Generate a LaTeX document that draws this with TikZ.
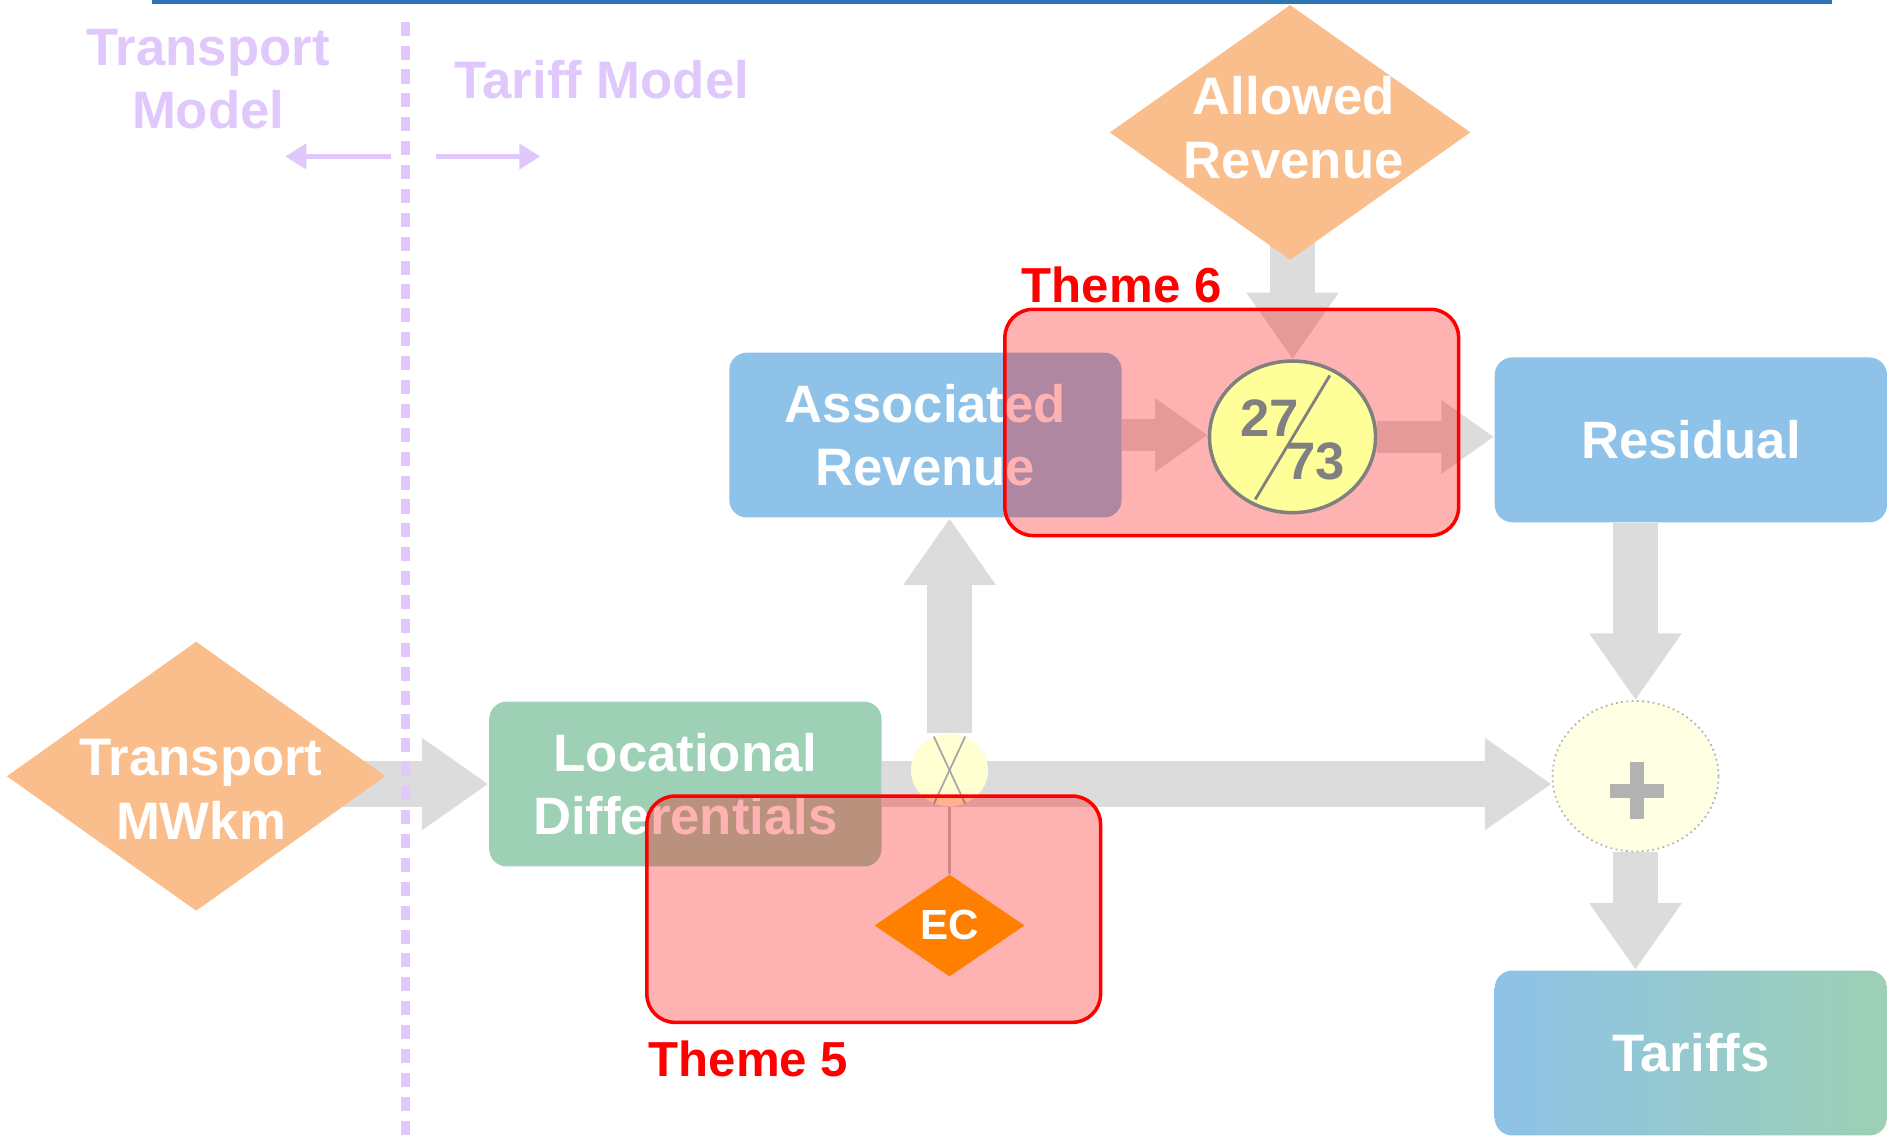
\documentclass[tikz,border=0pt]{standalone}
\usepackage{fontspec}
\setmainfont{Liberation Sans}
\usetikzlibrary{shapes.geometric,arrows.meta,backgrounds}

\newcommand{\upx}{0.012034cm}

\definecolor{headblue}{HTML}{2E75B6}
\definecolor{lavender}{HTML}{E0C8FC}
\definecolor{faintorange}{HTML}{F9BE8C}
\definecolor{blockblue}{HTML}{8EC2E8}
\definecolor{blockgreen}{HTML}{9DD0B4}
\definecolor{arrowgrey}{HTML}{DCDCDC}
\definecolor{ratioyellow}{HTML}{FFFF99}
\definecolor{paleyellow}{HTML}{FFFFE4}
\definecolor{ecorange}{HTML}{FF7F00}

\tikzset{
  headerline/.style={draw=headblue, line width=1pt},
  splitline/.style={draw=lavender, line width=2.4pt, dash pattern=on 4pt off 2.8pt},
  splitarrow/.style={draw=lavender, line width=1.6pt, -{Triangle[width=7pt,length=6pt]}},
  modeltext/.style={text=lavender, font=\fontsize{15}{18}\selectfont\bfseries, align=center, inner sep=0pt},
  inputdia/.style={diamond, fill=faintorange, inner sep=0pt},
  diatext/.style={text=white, font=\fontsize{15}{18}\selectfont\bfseries, align=center, inner sep=0pt},
  block/.style={rectangle, rounded corners=5pt, fill=blockblue, minimum width=326*\upx, minimum height=137*\upx,
    text=white, font=\fontsize{15}{18}\selectfont\bfseries, align=center, inner sep=0pt},
  theme/.style={rectangle, rounded corners=8pt, draw=red, line width=1pt, fill=red, fill opacity=0.3,
    minimum width=377*\upx, minimum height=188*\upx},
  themelabel/.style={text=red, font=\fontsize{14}{17}\selectfont\bfseries, inner sep=0pt},
  rationode/.style={ellipse, fill=ratioyellow, draw=gray, line width=1pt, minimum width=138*\upx, minimum height=126*\upx, inner sep=0pt},
  ratiotext/.style={text=gray, font=\fontsize{15}{18}\selectfont\bfseries, inner sep=0pt},
  ratioline/.style={draw=gray, line width=0.8pt},
  xnode/.style={ellipse, fill=ratioyellow!45, minimum width=64*\upx, minimum height=60*\upx, inner sep=0pt},
  xcross/.style={draw=gray!70, line width=0.5pt},
  plusnode/.style={ellipse, draw=gray!60, densely dotted, line width=0.5pt, fill=paleyellow,
    minimum width=138*\upx, minimum height=125*\upx, inner sep=0pt},
  plusbar/.style={draw=gray!60, line width=4pt},
  ecdia/.style={diamond, fill=ecorange, minimum width=125*\upx, minimum height=85*\upx, inner sep=0pt,
    text=white, font=\fontsize{12}{14}\selectfont\bfseries},
  bigarrow/.style={draw=arrowgrey, line width=13pt, -{Triangle[width=25pt,length=19pt]}},
  midarrow/.style={draw=arrowgrey, line width=9pt, -{Triangle[width=20pt,length=15pt]}},
  thinlink/.style={draw=gray!50, line width=0.7pt}
}

\begin{document}
\begin{tikzpicture}[x=\upx, y=-\upx]
\useasboundingbox (0,0) rectangle (1568,948);

% header rule
\coordinate (hleft) at (126,1.5);
\coordinate (hright) at (1522,1.5);
\draw[headerline] (hleft) -- (hright);

% transport / tariff split
\coordinate (splittop) at (337,18);
\coordinate (splitbot) at (337,948);
\draw[splitline] (splittop) -- (splitbot);
\node[modeltext] (tmodel) at (173,66) {Transport\\Model};
\node[modeltext] (fmodel) at (500,66) {Tariff Model};
\coordinate (lfrom) at (325,130);
\coordinate (lto) at (237,130);
\coordinate (rfrom) at (362,130);
\coordinate (rto) at (449,130);
\draw[splitarrow] (lfrom) -- (lto);
\draw[splitarrow] (rfrom) -- (rto);

% inputs
\node[inputdia, minimum width=300*\upx, minimum height=212*\upx] (ar) at (1072,110) {};
\node[diatext] (artext) at (1075,106) {Allowed\\Revenue};
\node[inputdia, minimum width=315*\upx, minimum height=224*\upx] (tmw) at (163,645) {};
\node[diatext] (tmwtext) at (167,656) {Transport\\MWkm};

% blocks
\node[block] (assoc) at (769,361.5) {Associated\\Revenue};
\node[block] (res) at (1405,365.5) {Residual};
\node[block, fill=blockgreen] (locd) at (569.5,651.5) {Locational\\Differentials};
\node[block, fill=none, left color=blockblue, right color=blockgreen] (tar) at (1405,875) {Tariffs};

% operators
\node[xnode] (xc) at (789,640) {};
\draw[xcross] (xc.115) -- (xc.295);
\draw[xcross] (xc.65) -- (xc.245);
\node[plusnode] (plus) at (1359,645) {};
\draw[plusbar] ([shift={(-21.5,12)}]plus.center) -- ([shift={(23.5,12)}]plus.center);
\draw[plusbar] ([shift={(1,-11.5)}]plus.center) -- ([shift={(1,35.5)}]plus.center);

% themes
\node[theme] (t6) at (1023.5,351) {};
\node[themelabel] (t6label) at (932,237) {Theme 6};
\node[theme] (t5) at (726,755.5) {};
\node[themelabel] (t5label) at (622,880) {Theme 5};

% split ratio and EC
\node[rationode] (ratio) at (1074,363) {};
\draw[ratioline] ([shift={(31,-51)}]ratio.center) -- ([shift={(-31,52)}]ratio.center);
\node[ratiotext] (r27) at ([shift={(-19,-16)}]ratio.center) {27};
\node[ratiotext] (r73) at ([shift={(19,20)}]ratio.center) {73};
\node[ecdia] (ec) at (789,769) {EC};

% flows
\begin{pgfonlayer}{background}
\draw[bigarrow] (tmw.center |- locd.west) -- (locd.west);
\draw[bigarrow] (locd.east) -- (locd.east -| plus.west);
\draw[bigarrow] (xc.north) -- (xc.north |- assoc.south);
\draw[bigarrow] (ratio.north |- ar.center) -- (ratio.north);
\draw[midarrow] (assoc.east) -- (assoc.east -| ratio.west);
\draw[midarrow] (ratio.east) -- (ratio.east -| res.west);
\draw[bigarrow] (plus.north |- res.south) -- (plus.north);
\draw[bigarrow] (plus.south) -- (plus.south |- tar.north);
\draw[thinlink] (ec.north) -- (xc.south);
\end{pgfonlayer}
\end{tikzpicture}
\end{document}
